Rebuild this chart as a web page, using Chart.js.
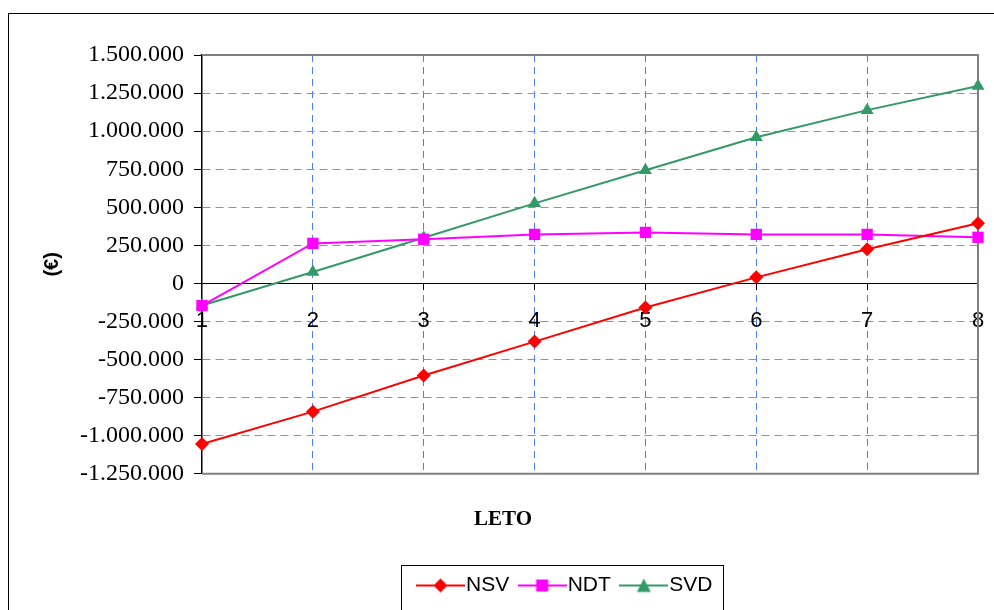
<!DOCTYPE html>
<html>
<head>
<meta charset="utf-8">
<script src="https://cdn.jsdelivr.net/npm/chart.js@4.4.0/dist/chart.umd.min.js"></script>
<style>
  html, body { margin: 0; padding: 0; background: #fff; }
  #wrap { width: 994px; height: 610px; }
</style>
</head>
<body>
<div id="wrap"><canvas id="myChart" width="994" height="610"></canvas></div>
<script>
// DATA
const years = ["1", "2", "3", "4", "5", "6", "7", "8"];
const nsv = [-1054000, -842000, -605000, -382000, -158000, 40000, 224000, 395000];
const ndt = [-145000, 263000, 290000, 322000, 335000, 322000, 322000, 303000];
const svd = [-145000, 75000, 300000, 526000, 743000, 960000, 1138000, 1296000];
const yTicks = [-1250000, -1000000, -750000, -500000, -250000, 0, 250000, 500000, 750000, 1000000, 1250000, 1500000];

function fmt(v) {
    const s = Math.abs(v).toString().replace(/\B(?=(\d{3})+(?!\d))/g, ".");
    return (v < 0 ? "-" : "") + s;
}

// legend sample: line with marker in the middle
function legendIcon(color, shape) {
    const c = document.createElement("canvas");
    c.width = 49;
    c.height = 16;
    const g = c.getContext("2d");
    g.strokeStyle = color;
    g.lineWidth = 2;
    g.beginPath();
    g.moveTo(0, 8);
    g.lineTo(49, 8);
    g.stroke();
    g.fillStyle = color;
    g.beginPath();
    if (shape === "diamond") {
        g.moveTo(24.5, 1); g.lineTo(31.5, 8); g.lineTo(24.5, 15); g.lineTo(17.5, 8);
    } else if (shape === "square") {
        g.rect(18.5, 2, 12, 12);
    } else {
        g.moveTo(24.5, 1); g.lineTo(31.5, 14.5); g.lineTo(17.5, 14.5);
    }
    g.closePath();
    g.fill();
    return c;
}
const icons = [legendIcon("#FF0000", "diamond"), legendIcon("#FF00FF", "square"), legendIcon("#339966", "tri")];

const framePlugin = {
    id: "frame",
    beforeDraw(chart) {
        const ctx = chart.ctx;
        ctx.save();
        ctx.fillStyle = "#fff";
        ctx.fillRect(0, 0, chart.width, chart.height);
        ctx.strokeStyle = "#000";
        ctx.lineWidth = 1;
        ctx.strokeRect(8.5, 13.5, 1400, 1400);
        ctx.restore();
    },
    afterLayout(chart) {
        // legend sits a bit left of the plot centre
        if (chart.legend) {
            chart.legend.left -= 21;
            chart.legend.right -= 21;
        }
    },
    beforeDatasetsDraw(chart) {
        const a = chart.chartArea;
        const ctx = chart.ctx;
        ctx.save();
        ctx.strokeStyle = "#808080";
        ctx.lineWidth = 2;
        ctx.beginPath();
        ctx.moveTo(a.left, a.top);
        ctx.lineTo(a.right, a.top);
        ctx.lineTo(a.right, a.bottom);
        ctx.lineTo(a.left, a.bottom);
        ctx.stroke();
        ctx.restore();
    },
    afterDraw(chart) {
        const boxes = chart.legend && chart.legend.legendHitBoxes;
        if (!boxes || !boxes.length) return;
        let l = Infinity, r = -Infinity, t = Infinity, b = -Infinity;
        boxes.forEach(h => {
            l = Math.min(l, h.left);
            r = Math.max(r, h.left + h.width);
            t = Math.min(t, h.top);
            b = Math.max(b, h.top + h.height);
        });
        const ctx = chart.ctx;
        ctx.save();
        ctx.strokeStyle = "#000";
        ctx.lineWidth = 1;
        ctx.strokeRect(Math.round(l - 24.5) + 0.5, Math.round(t - 10) + 0.5, Math.round(r - l + 35), Math.round(b - t + 24));
        ctx.restore();
    }
};

const data = {
    labels: years,
    datasets: [
        {
            label: "NSV",
            data: nsv,
            borderColor: "#FF0000",
            backgroundColor: "#FF0000",
            pointStyle: "rectRot",
            pointRadius: 7,
        },
        {
            label: "NDT",
            data: ndt,
            borderColor: "#FF00FF",
            backgroundColor: "#FF00FF",
            pointStyle: "rect",
            pointRadius: 8,
        },
        {
            label: "SVD",
            data: svd,
            borderColor: "#339966",
            backgroundColor: "#339966",
            pointStyle: "triangle",
            pointRadius: 7.5,
        },
    ],
};

const config = {
    type: "line",
    data: data,
    plugins: [framePlugin],
    options: {
        responsive: false,
        animation: false,
        layout: {
            padding: { left: 28, right: 16, top: 55, bottom: 4 },
        },
        elements: {
            line: { borderWidth: 2, tension: 0 },
            point: { borderWidth: 0, hoverRadius: 7 },
        },
        datasets: {
            line: { clip: false },
        },
        scales: {
            x: {
                type: "category",
                offset: false,
                position: { y: 0 },
                afterFit(scale) {
                    // labels sit below the zero line, no side padding needed
                    scale.paddingLeft = 0;
                    scale.paddingRight = 0;
                },
                grid: {
                    color: "#4B7BF5",
                    lineWidth: 1,
                    tickColor: "#000",
                    tickLength: 6,
                },
                border: { display: true, color: "#000", width: 1, dash: [7, 5] },
                ticks: {
                    color: "#000",
                    padding: 18,
                    font: { family: "Liberation Sans", size: 22 },
                },
            },
            y: {
                min: -1250000,
                max: 1500000,
                afterBuildTicks(scale) {
                    scale.ticks = yTicks.map(v => ({ value: v }));
                },
                grid: {
                    color: ctx => (ctx.tick && ctx.tick.value === 0 ? "rgba(0,0,0,0)" : "#22BBEE"),
                    lineWidth: 1,
                    tickColor: "#000",
                    tickLength: 8,
                },
                border: { display: true, color: "#000", width: 1.5, dash: [8, 5] },
                ticks: {
                    color: "#000",
                    padding: 10,
                    font: { family: "Liberation Serif", size: 24 },
                    callback: v => fmt(v),
                },
                title: {
                    display: true,
                    text: "(€)",
                    color: "#000",
                    font: { family: "Liberation Sans", size: 20, weight: "bold" },
                    padding: { top: 12, bottom: 6 },
                },
            },
        },
        plugins: {
            title: {
                display: true,
                text: "LETO",
                position: "bottom",
                weight: 500,
                color: "#000",
                font: { family: "Liberation Serif", size: 21, weight: "bold" },
                padding: { top: 33, bottom: 25 },
            },
            legend: {
                position: "bottom",
                fullSize: false,
                labels: {
                    usePointStyle: true,
                    pointStyleWidth: 30,
                    padding: 18,
                    color: "#000",
                    font: { family: "Liberation Sans", size: 21 },
                    generateLabels(chart) {
                        const items = Chart.defaults.plugins.legend.labels.generateLabels(chart);
                        items.forEach((it, i) => { it.pointStyle = icons[i]; });
                        return items;
                    },
                },
            },
            tooltip: { enabled: false },
        },
    },
};

const myChart = new Chart(document.getElementById("myChart"), config);
</script>
</body>
</html>
